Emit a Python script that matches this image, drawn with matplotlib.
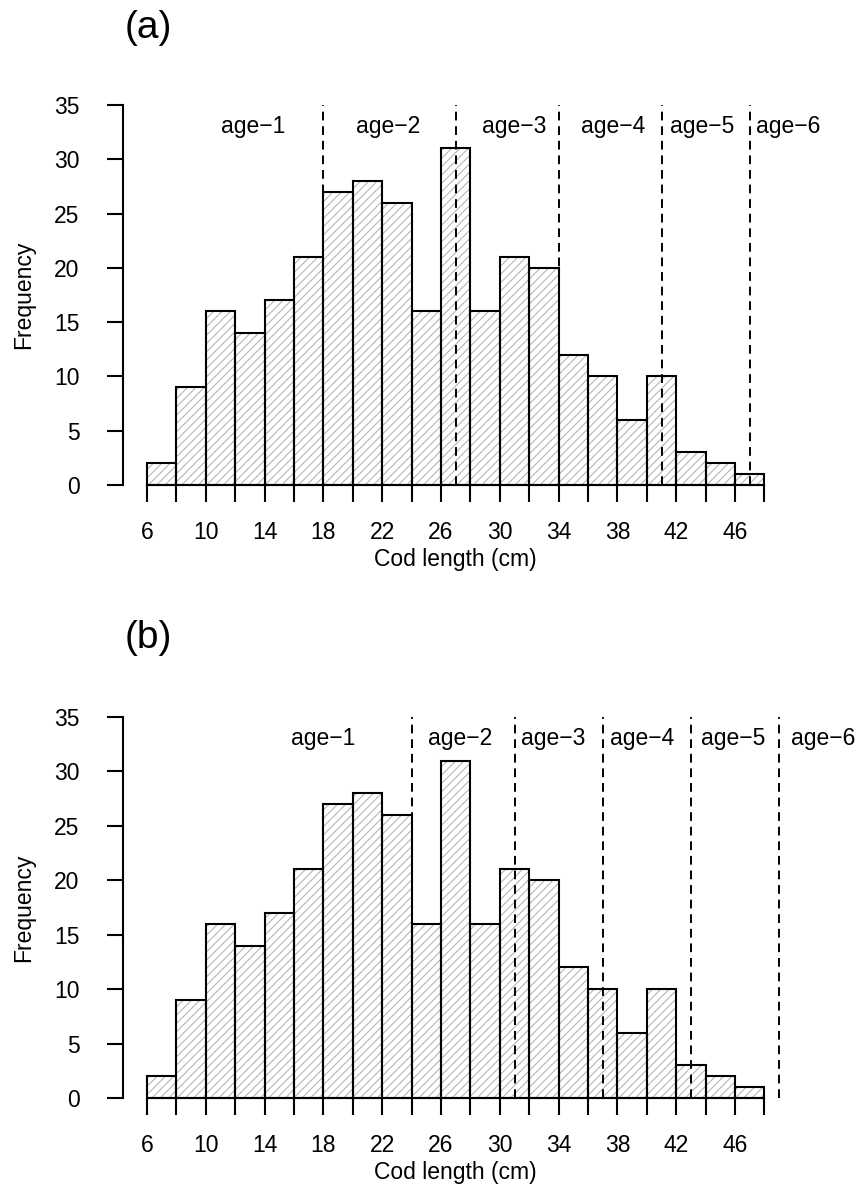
import matplotlib.pyplot as plt

plt.rcParams['font.family'] = ['Liberation Sans', 'DejaVu Sans']
plt.rcParams['hatch.linewidth'] = 0.7

# histogram data (same length sample in both panels)
bin_edges = [6, 8, 10, 12, 14, 16, 18, 20, 22, 24, 26, 28, 30,
             32, 34, 36, 38, 40, 42, 44, 46, 48]
counts = [2, 9, 16, 14, 17, 21, 27, 28, 26, 16, 31,
          16, 21, 20, 12, 10, 6, 10, 3, 2, 1]
x_labels = [6, 10, 14, 18, 22, 26, 30, 34, 38, 42, 46]
y_ticks = [0, 5, 10, 15, 20, 25, 30, 35]

age_names = ['age−1', 'age−2', 'age−3', 'age−4', 'age−5', 'age−6']

# age cut-offs and label positions for each panel
cuts_a = [18, 27, 34, 41, 47]
label_x_a = [13.2, 22.4, 31.0, 37.7, 43.8, 49.6]
cuts_b = [24, 31, 37, 43, 49]
label_x_b = [18.0, 27.3, 33.6, 39.7, 45.9, 52.0]

W, H = 858, 1187
fig = plt.figure(figsize=(W / 100, H / 100), dpi=100)

FS = 16.5


def panel(top0, zero_px, top35_px, cuts, label_x, tag):
    # map pixels -> axes rectangle
    xpu = (764.4 - 147) / 42.0
    ypu = (zero_px - top35_px) / 35.0
    xmin, xmax = 4.4, 53.5
    ymin, ymax = -1.5, 36
    left = 147 - (6 - xmin) * xpu
    right = 147 + (xmax - 6) * xpu
    bottom = zero_px - ymin * ypu
    top = zero_px - ymax * ypu
    ax = fig.add_axes([left / W, 1 - bottom / H, (right - left) / W, (bottom - top) / H])
    ax.set_xlim(xmin, xmax)
    ax.set_ylim(ymin, ymax)

    widths = [bin_edges[i + 1] - bin_edges[i] for i in range(len(counts))]
    # hatched fill, then black outline
    ax.bar(bin_edges[:-1], counts, width=widths, align='edge', facecolor='white',
           edgecolor='#adadad', hatch='////', linewidth=0)
    ax.bar(bin_edges[:-1], counts, width=widths, align='edge', facecolor='none',
           edgecolor='black', linewidth=1.5)

    ax.vlines(cuts, 0, 35, colors='black', linestyles=(0, (4.5, 3)), linewidth=1.4)
    for xx, name in zip(label_x, age_names):
        ax.text(xx, 33, name, ha='center', va='center', fontsize=FS)

    for s in ['top', 'right']:
        ax.spines[s].set_visible(False)
    ax.spines['left'].set_bounds(0, 35)
    ax.spines['bottom'].set_position(('data', 0))
    ax.spines['bottom'].set_bounds(bin_edges[0], bin_edges[-1])
    for s in ['left', 'bottom']:
        ax.spines[s].set_linewidth(1.5)

    ax.set_yticks(y_ticks)
    ax.set_xticks(bin_edges)
    ax.set_xticklabels([str(e) if e in x_labels else '' for e in bin_edges])
    ax.tick_params(axis='y', direction='out', length=11.5, width=1.5, pad=20, labelsize=FS)
    ax.tick_params(axis='x', direction='out', length=12, width=1.5, pad=14, labelsize=FS)

    fig.text(148 / W, 1 - top0 / H, tag, fontsize=28, ha='center', va='center')
    fig.text(455 / W, 1 - (zero_px + 75) / H, 'Cod length (cm)', fontsize=FS,
             ha='center', va='center')
    fig.text(24 / W, 1 - (zero_px + top35_px) / 2 / H, 'Frequency', fontsize=FS,
             ha='center', va='center', rotation=90)
    return ax


panel(28, 485, 105, cuts_a, label_x_a, '(a)')
panel(638, 1098, 717, cuts_b, label_x_b, '(b)')

fig.savefig('out.png', dpi=100)
